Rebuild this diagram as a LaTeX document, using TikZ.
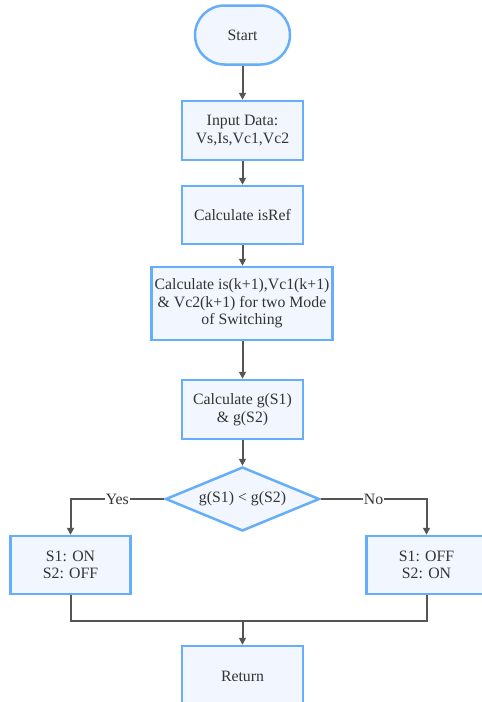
\documentclass[tikz,border=0pt]{standalone}
\usepackage{fontspec}
\setmainfont{Liberation Serif}
\usetikzlibrary{shapes.geometric,arrows.meta}
\definecolor{bdcol}{HTML}{66ADFA}
\definecolor{flcol}{HTML}{F2F7FF}
\definecolor{lncol}{HTML}{555555}
\definecolor{txcol}{HTML}{333333}
\tikzset{
  basefont/.style={font=\fontsize{15.8}{17.6}\selectfont},
  box/.style={draw=bdcol, fill=flcol, line width=2.5pt, text=txcol, align=center,
    inner sep=0pt, basefont, rectangle},
  startbox/.style={box, rounded corners=29.5pt, minimum width=95pt, minimum height=59pt},
  decbox/.style={box, diamond, aspect=2.4, minimum width=154pt, minimum height=64pt},
  arr/.style={draw=lncol, line width=2pt, -{Triangle[length=7pt,width=7pt]}},
  plainline/.style={draw=lncol, line width=2pt},
  lbl/.style={fill=white, text=txcol, inner sep=1pt, basefont},
}
\begin{document}
\begin{tikzpicture}[x=1pt,y=-1pt]
\useasboundingbox (0,0) rectangle (482,702);
\clip (0,0) rectangle (482,702);
\node[startbox] (start) at (242.5,35) {Start};
\node[box, minimum width=121pt, minimum height=59pt] (input) at (242.5,130.5) {Input Data:\\Vs,Is,Vc1,Vc2};
\node[box, minimum width=121pt, minimum height=58pt] (isref) at (242.5,215) {Calculate isRef};
\node[box, minimum width=181pt, minimum height=73pt] (calc) at (242,303.5) {Calculate is(k+1),Vc1(k+1)\\\& Vc2(k+1) for two Mode\\of Switching};
\node[box, minimum width=121pt, minimum height=59pt] (gbox) at (242.5,409.5) {Calculate g(S1)\\\& g(S2)};
\node[decbox] (dec) at (242.5,499) {g(S1) < g(S2)};
\node[box, minimum width=120pt, minimum height=58pt] (left) at (70.5,565) {S1: ON\\S2: OFF};
\node[box, minimum width=120pt, minimum height=58pt] (right) at (426.5,565) {S1: OFF\\S2: ON};
\node[box, minimum width=121pt, minimum height=60pt] (ret) at (242.5,676) {Return};
\coordinate (join) at (242.5,620.5);

\draw[arr] (start) -- (input);
\draw[arr] (input) -- (isref);
\draw[arr] (isref) -- (calc.north -| isref.south);
\draw[arr] (calc.south -| isref.south) -- (gbox);
\draw[arr] (gbox) -- (dec);
\draw[arr] (dec.west) -- node[lbl]{Yes} (left.north |- dec.west) -- (left.north);
\draw[arr] (dec.east) -- node[lbl]{No} (right.north |- dec.east) -- (right.north);
\draw[plainline] (left.south) |- (join);
\draw[plainline] (right.south) |- (join);
\draw[arr] (join) -- (ret.north);
\end{tikzpicture}
\end{document}
